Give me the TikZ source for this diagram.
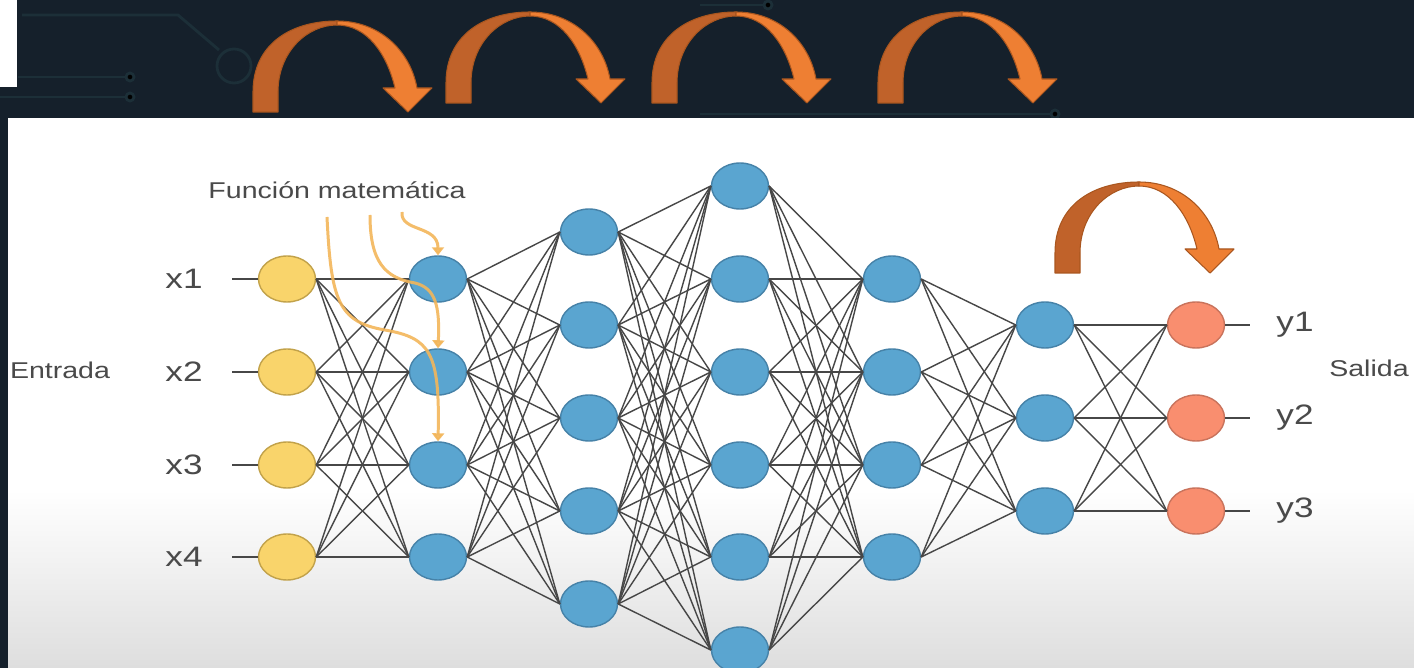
\documentclass[tikz,border=0pt]{standalone}
\usepackage{fontspec}
\setmainfont{Liberation Sans}
\usepackage{xcolor}
\usepackage{tikz}
\usetikzlibrary{shapes.geometric,arrows.meta}

\definecolor{band}{HTML}{15202B}
\definecolor{trace}{HTML}{1C2F38}
\definecolor{oradark}{HTML}{C0622A}
\definecolor{oralight}{HTML}{EE7F33}
\definecolor{oraline}{HTML}{A9561F}
\definecolor{inyel}{HTML}{F9D46B}
\definecolor{inyeldraw}{HTML}{C2A24A}
\definecolor{hidblue}{HTML}{5AA5D0}
\definecolor{hidbluedraw}{HTML}{4682A8}
\definecolor{outred}{HTML}{F98E6F}
\definecolor{outreddraw}{HTML}{C9735C}
\definecolor{funcyel}{HTML}{F3B65A}
\definecolor{txt}{HTML}{4A4A4A}
\definecolor{wire}{HTML}{474747}

\newcommand{\hs}[1]{\scalebox{1.25}[1]{#1}}

\tikzset{
  neuron/.style={ellipse, minimum width=1.14cm, minimum height=0.92cm, inner sep=0pt, line width=0.8pt},
  inp/.style={neuron, fill=inyel, draw=inyeldraw},
  hid/.style={neuron, fill=hidblue, draw=hidbluedraw},
  outp/.style={neuron, fill=outred, draw=outreddraw},
  link/.style={draw=wire, line width=0.8pt},
  func/.style={draw=funcyel, line width=1.7pt, opacity=0.9, -{Triangle[length=0.16cm,width=0.24cm]}},
  varlbl/.style={text=txt, font=\fontsize{16}{18}\selectfont},
  sidelbl/.style={text=txt, font=\fontsize{13}{15}\selectfont},
  trace/.style={draw=trace, line width=1.6pt},
  jump/.pic={
    \filldraw[fill=oradark, draw=oraline, line width=0.6pt, line join=round]
      (0,0) -- (0,-20) .. controls (0,-68) and (38,-91) .. (84,-91) -- (84,-87)
      .. controls (54,-87) and (25,-60) .. (25,-20) -- (25,0) -- cycle;
    \filldraw[fill=oralight, draw=oraline, line width=0.6pt, line join=round]
      (84,-91) .. controls (126,-91) and (157,-62) .. (164,-24) -- (179,-24) -- (155,0)
      -- (130,-24) -- (142,-24) .. controls (134,-58) and (114,-87) .. (84,-87) -- cycle;
  }
}

\begin{document}
\begin{tikzpicture}[x=0.02cm,y=-0.02cm]
  \useasboundingbox (0,0) rectangle (1414,668);
  % background
  \fill[band] (0,0) rectangle (1414,668);
  \fill[white] (0,0) rectangle (17,87);
  \draw[trace] (22,15) -- (178,15) -- (219,50);
  \draw[trace] (234,66) circle[radius=17];
  \draw[trace] (18,77) -- (130,77);
  \fill[trace] (130,77) circle[radius=4];
  \draw[trace] (0,97) -- (130,97);
  \fill[trace] (130,97) circle[radius=4];
  \draw[trace] (700,5) -- (768,5);
  \fill[trace] (768,5) circle[radius=4];
  \draw[trace] (700,114) -- (1055,114);
  \fill[trace] (1055,114) circle[radius=4];
  \fill[white] (8,118) rectangle (1414,490);
  \shade[top color=white, bottom color=gray!26] (8,490) rectangle (1414,668);

  % orange jumps
  \pic at (253,112) {jump};
  \pic at (446,103) {jump};
  \pic at (652,103) {jump};
  \pic at (878,103) {jump};
  \pic at (1055,273) {jump};

  % neurons
  \foreach \i/\y in {1/279,2/372,3/465,4/557} {
    \node[inp] (x\i) at (287,\y) {};
    \node[hid] (a\i) at (438,\y) {};
    \node[hid] (d\i) at (892,\y) {};
    \coordinate (in\i) at (232,\y);
    \node[varlbl] (lx\i) at (184,\y) {\hs{x\i}};
  }
  \foreach \i/\y in {1/232,2/325,3/418,4/511,5/604}
    \node[hid] (b\i) at (589,\y) {};
  \foreach \i/\y in {1/186,2/279,3/372,4/465,5/557,6/650}
    \node[hid] (c\i) at (740,\y) {};
  \foreach \i/\y in {1/325,2/418,3/511} {
    \node[hid] (e\i) at (1045,\y) {};
    \node[outp] (o\i) at (1196,\y) {};
    \coordinate (out\i) at (1250,\y);
    \node[varlbl] (ly\i) at (1295,\y) {\hs{y\i}};
  }

  % connections
  \foreach \i in {1,...,4} {
    \draw[link] (in\i) -- (x\i.west);
    \foreach \j in {1,...,4} \draw[link] (x\i.east) -- (a\j.west);
    \foreach \j in {1,...,5} \draw[link] (a\i.east) -- (b\j.west);
    \foreach \j in {1,...,3} \draw[link] (d\i.east) -- (e\j.west);
  }
  \foreach \i in {1,...,5}
    \foreach \j in {1,...,6} \draw[link] (b\i.east) -- (c\j.west);
  \foreach \i in {1,...,6}
    \foreach \j in {1,...,4} \draw[link] (c\i.east) -- (d\j.west);
  \foreach \i in {1,...,3} {
    \draw[link] (o\i.east) -- (out\i);
    \foreach \j in {1,...,3} \draw[link] (e\i.east) -- (o\j.west);
  }

  % labels
  \node[sidelbl] (entrada) at (60,370) {\hs{Entrada}};
  \node[sidelbl] (salida) at (1369,368) {\hs{Salida}};
  \node[sidelbl] (fm) at (337,190) {\hs{Función matemática}};

  % function arrows
  \coordinate (f1) at (327,217);
  \coordinate (f2) at (370,215);
  \coordinate (f3) at (402,212);
  \draw[func] (f1) .. controls (331,300) and (338,322) .. (385,330)
    .. controls (430,338) and (440,352) .. (a3.north);
  \draw[func] (f2) .. controls (370,262) and (385,278) .. (415,283)
    .. controls (435,288) and (440,305) .. (a2.north);
  \draw[func] (f3) .. controls (400,232) and (438,225) .. (a1.north);
\end{tikzpicture}
\end{document}
